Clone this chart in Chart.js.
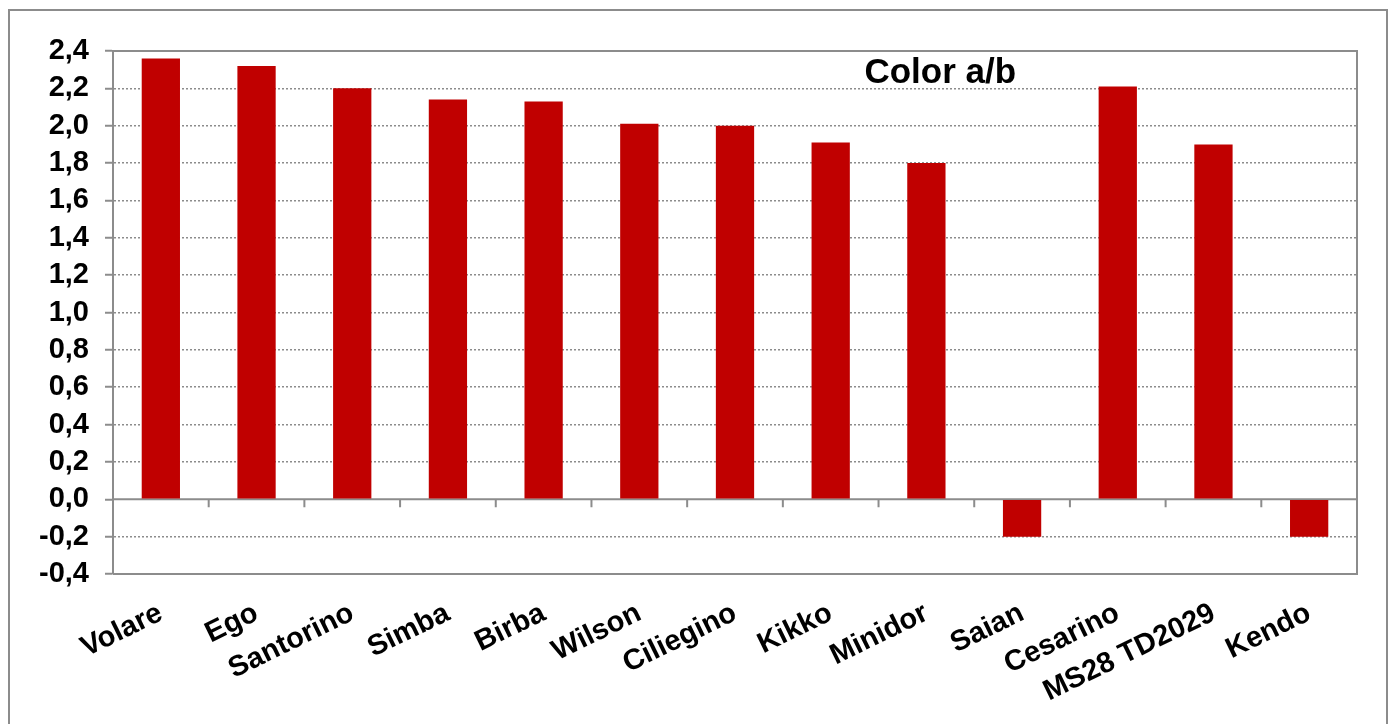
<!DOCTYPE html>
<html>
<head>
<meta charset="utf-8">
<script src="https://cdn.jsdelivr.net/npm/chart.js@4/dist/chart.umd.min.js"></script>
<style>
    html, body { margin: 0; padding: 0; background: #fff; }
    #wrap { width: 1391px; height: 724px; position: relative; }
</style>
</head>
<body>
<div id="wrap"><canvas id="chart"></canvas></div>
<script>
// Data
const varieties = ['Volare', 'Ego', 'Santorino', 'Simba', 'Birba', 'Wilson', 'Ciliegino',
    'Kikko', 'Minidor', 'Saian', 'Cesarino', 'MS28 TD2029', 'Kendo'];
const colorAB = [2.36, 2.32, 2.20, 2.14, 2.13, 2.01, 2.00, 1.91, 1.80, -0.20, 2.21, 1.90, -0.20];
const yTicks = [-0.4, -0.2, 0.0, 0.2, 0.4, 0.6, 0.8, 1.0, 1.2, 1.4, 1.6, 1.8, 2.0, 2.2, 2.4];
const chartTitle = 'Color a/b';

const AXIS_GREY = '#8c8c8c';
const BAR_RED = '#C00000';
const FONT = '"Liberation Sans", Arial, sans-serif';

const formatTick = (v) => Number(v).toFixed(1).replace('.', ',');

// Frame, solid zero line, category ticks and the title
const framePlugin = {
    id: 'frame',
    beforeDraw(chart) {
        const ctx = chart.ctx;
        ctx.save();
        ctx.fillStyle = '#fff';
        ctx.fillRect(0, 0, chart.width, chart.height);
        ctx.strokeStyle = AXIS_GREY;
        ctx.lineWidth = 2;
        ctx.beginPath();
        ctx.moveTo(9, chart.height + 5);
        ctx.lineTo(9, 10);
        ctx.lineTo(1387, 10);
        ctx.lineTo(1387, chart.height + 5);
        ctx.stroke();
        ctx.restore();
    },
    beforeDatasetsDraw(chart) {
        const { ctx, chartArea: a, scales: { x, y } } = chart;
        const y0 = y.getPixelForValue(0);
        ctx.save();
        ctx.strokeStyle = AXIS_GREY;
        ctx.lineWidth = 2;
        ctx.beginPath();
        ctx.moveTo(a.left, a.top);
        ctx.lineTo(a.right, a.top);
        ctx.lineTo(a.right, a.bottom);
        ctx.lineTo(a.left, a.bottom);
        ctx.moveTo(a.left, y0);
        ctx.lineTo(a.right, y0);
        const step = (a.right - a.left) / varieties.length;
        for (let i = 1; i < varieties.length; i++) {
            const px = x.getPixelForValue(i) - step / 2;
            ctx.moveTo(px, y0);
            ctx.lineTo(px, y0 + 8);
        }
        ctx.stroke();
        ctx.restore();
    },
    afterDraw(chart) {
        const { ctx, chartArea: a } = chart;
        ctx.save();
        ctx.fillStyle = '#000';
        ctx.font = `bold 35px ${FONT}`;
        ctx.textAlign = 'center';
        ctx.textBaseline = 'alphabetic';
        ctx.fillText(chartTitle, a.left + (a.right - a.left) * 0.665, a.top + 32);
        ctx.restore();
    }
};

new Chart(document.getElementById('chart'), {
    type: 'bar',
    data: {
        labels: varieties,
        datasets: [{
            label: chartTitle,
            data: colorAB,
            backgroundColor: BAR_RED,
            borderWidth: 0,
            barPercentage: 0.4,
            categoryPercentage: 1.0
        }]
    },
    options: {
        responsive: true,
        maintainAspectRatio: false,
        animation: false,
        layout: { padding: { top: 51, right: 34, left: 0, bottom: 0 } },
        plugins: {
            legend: { display: false },
            title: { display: false },
            tooltip: { enabled: false }
        },
        scales: {
            x: {
                grid: { display: false, drawTicks: false },
                border: { display: false },
                afterFit: (scale) => { scale.height = 150; },
                ticks: {
                    autoSkip: false,
                    minRotation: 26,
                    maxRotation: 26,
                    padding: 22,
                    color: '#000',
                    font: { family: FONT, size: 29, weight: 'bold' }
                }
            },
            y: {
                min: -0.4,
                max: 2.4,
                afterFit: (scale) => { scale.width = 113; },
                afterBuildTicks: (scale) => { scale.ticks = yTicks.map(v => ({ value: v })); },
                grid: {
                    color: (ctx) => {
                        const v = ctx.tick ? Math.round(ctx.tick.value * 10) : null;
                        return (v === 0 || v === 24 || v === -4) ? 'rgba(0,0,0,0)' : AXIS_GREY;
                    },
                    lineWidth: 1.5,
                    tickColor: AXIS_GREY,
                    tickWidth: 2,
                    tickLength: 8
                },
                border: { display: true, color: AXIS_GREY, width: 2, dash: [2, 2] },
                ticks: {
                    autoSkip: false,
                    padding: 16,
                    color: '#000',
                    font: { family: FONT, size: 29, weight: 'bold' },
                    callback: (v) => formatTick(v)
                }
            }
        }
    },
    plugins: [framePlugin]
});
</script>
</body>
</html>
